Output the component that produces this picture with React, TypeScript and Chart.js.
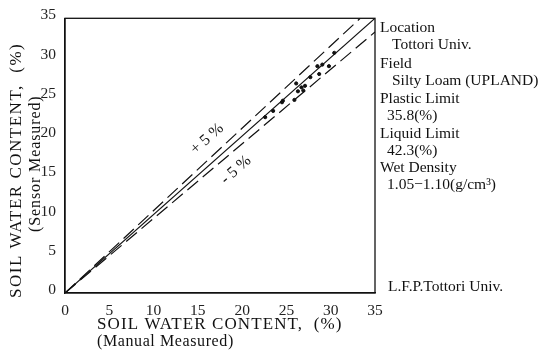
import React, { useEffect, useRef } from "react";
import { Chart, registerables } from "chart.js";
Chart.register(...registerables);

// Data
const manualMeasured = [22.6, 23.5, 24.5, 24.6, 25.9, 26.1, 26.3, 26.7, 26.9, 27.1, 27.7, 28.5, 28.7, 29.05, 29.8, 30.4];
const sensorMeasured = [22.4, 23.2, 24.3, 24.5, 24.6, 26.7, 25.7, 26.2, 25.8, 26.4, 27.5, 28.9, 27.9, 29.1, 28.9, 30.6];

// reference lines (1:1, +5 %, -5 %)
const oneToOneX = [0, 35];
const oneToOneY = [0, 35];
const plusFiveX = [0, 33.33];
const plusFiveY = [0, 35];
const minusFiveX = [0, 35];
const minusFiveY = [0, 33.25];

const axisMin = 0;
const axisMax = 35;
const tickStep = 5;

const xTitle = "SOIL WATER CONTENT,  (%)";
const xSubTitle = "(Manual Measured)";
const yTitle = "SOIL WATER CONTENT,  (%)";
const ySubTitle = "(Sensor Measured)";
const plusLabel = "+ 5 %";
const minusLabel = "- 5 %";
const infoHeadings = ["Location", "Field", "Plastic Limit", "Liquid Limit", "Wet Density"];
const infoValues = ["Tottori Univ.", "Silty Loam (UPLAND)", "35.8(%)", "42.3(%)", "1.05\u22121.10(g/cm\u00B3)"];
const creditText = "L.F.P.Tottori Univ.";

const SERIF = "'Liberation Serif', 'Times New Roman', serif";

function toXY(xs: number[], ys: number[]) {
  return xs.map((x, i) => ({ x, y: ys[i] }));
}

const overlayPlugin = {
  id: "overlay",
  afterDraw(chart: any) {
    const { ctx, chartArea } = chart;
    const xs = chart.scales.x;
    const ys = chart.scales.y;
    ctx.save();
    // frame
    ctx.strokeStyle = "#111";
    ctx.lineWidth = 1.3;
    ctx.strokeRect(chartArea.left, chartArea.top, chartArea.right - chartArea.left, chartArea.bottom - chartArea.top);

    ctx.fillStyle = "#111";
    ctx.textBaseline = "middle";
    // x titles
    ctx.textAlign = "left";
    ctx.font = `17px ${SERIF}`;
    (ctx as any).letterSpacing = "1.1px";
    ctx.fillText(xTitle, 97, 325);
    (ctx as any).letterSpacing = "0.6px";
    ctx.font = `16px ${SERIF}`;
    ctx.fillText(xSubTitle, 97, 342);

    // y titles
    ctx.save();
    ctx.translate(17, 298);
    ctx.rotate(-Math.PI / 2);
    ctx.font = `17px ${SERIF}`;
    (ctx as any).letterSpacing = "1.5px";
    ctx.fillText(yTitle, 0, 0);
    ctx.restore();
    ctx.save();
    ctx.translate(36, 232);
    ctx.rotate(-Math.PI / 2);
    ctx.font = `16px ${SERIF}`;
    (ctx as any).letterSpacing = "0.9px";
    ctx.fillText(ySubTitle, 0, 0);
    ctx.restore();

    // rotated +/-5% labels
    const ang = Math.atan2(ys.getPixelForValue(0) - ys.getPixelForValue(35), xs.getPixelForValue(35) - xs.getPixelForValue(0));
    ctx.textAlign = "center";
    ctx.font = `16px ${SERIF}`;
    (ctx as any).letterSpacing = "0px";
    ctx.save();
    ctx.translate(207, 139);
    ctx.rotate(-ang);
    ctx.fillText(plusLabel, 0, 0);
    ctx.restore();
    ctx.save();
    ctx.translate(236, 170);
    ctx.rotate(-ang);
    ctx.fillText(minusLabel, 0, 0);
    ctx.restore();

    // info block
    ctx.textAlign = "left";
    ctx.font = `15.5px ${SERIF}`;
    const headY = [28, 63.5, 99, 134, 168];
    infoHeadings.forEach((t, i) => {
      ctx.fillText(t, 380, headY[i]);
      ctx.fillText(infoValues[i], i < 2 ? 392 : 387, headY[i] + 17);
    });
    ctx.fillText(creditText, 388, 287);
    ctx.restore();
  },
};

export default function App() {
  const ref = useRef<HTMLCanvasElement>(null);
  useEffect(() => {
    if (!ref.current) return;
    const chart = new Chart(ref.current, {
      type: "scatter",
      data: {
        datasets: [
          {
            label: "1:1",
            data: toXY(oneToOneX, oneToOneY),
            showLine: true,
            borderColor: "#111",
            borderWidth: 1.2,
            pointRadius: 0,
          },
          {
            label: "+5%",
            data: toXY(plusFiveX, plusFiveY),
            showLine: true,
            borderColor: "#111",
            borderWidth: 1.2,
            borderDash: [14, 6],
            pointRadius: 0,
          },
          {
            label: "-5%",
            data: toXY(minusFiveX, minusFiveY),
            showLine: true,
            borderColor: "#111",
            borderWidth: 1.2,
            borderDash: [14, 6],
            pointRadius: 0,
          },
          {
            label: "data",
            data: toXY(manualMeasured, sensorMeasured),
            backgroundColor: "#111",
            borderColor: "#111",
            pointRadius: 1.6,
            pointStyle: "circle",
          },
        ],
      },
      options: {
        animation: false,
        responsive: false,
        maintainAspectRatio: false,
        layout: { padding: { left: 0, top: 17, right: 167, bottom: 0 } },
        plugins: { legend: { display: false }, tooltip: { enabled: false } },
        scales: {
          x: {
            type: "linear",
            min: axisMin,
            max: axisMax,
            grid: { display: false, drawTicks: false },
            border: { display: true, color: "#111", width: 1.3 },
            ticks: {
              stepSize: tickStep,
              padding: 9,
              color: "#222",
              font: { family: SERIF, size: 15.5 },
              maxRotation: 0,
            },
            afterFit: (s: any) => {
              s.height = 58;
            },
          },
          y: {
            type: "linear",
            min: axisMin,
            max: axisMax,
            grid: { display: false, drawTicks: false },
            border: { display: true, color: "#111", width: 1.3 },
            ticks: {
              stepSize: tickStep,
              padding: 9,
              color: "#222",
              labelOffset: -3,
              font: { family: SERIF, size: 15.5 },
            },
            afterFit: (s: any) => {
              s.width = 65;
            },
          },
        },
      },
      plugins: [overlayPlugin],
    });
    return () => chart.destroy();
  }, []);
  return (
    <div style={{ position: "absolute", left: 0, top: 0, width: 542, height: 351, background: "#fff" }}>
      <canvas ref={ref} width={542} height={351} style={{ width: 542, height: 351 }} />
    </div>
  );
}
